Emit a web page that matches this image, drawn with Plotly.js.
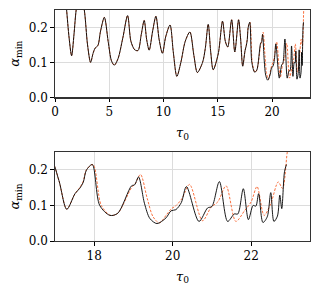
<!DOCTYPE html>
<html>
<head>
<meta charset="utf-8">
<script src="https://cdn.plot.ly/plotly-3.0.1.min.js"></script>
<style>html,body{margin:0;padding:0;background:#fff;}#chart{width:320px;height:290px;}</style>
</head>
<body>
<div id="chart"></div>
<script>
// Shared part of both series (curves coincide for tau0 < 17)
const tauCommon = [0.95,1.07,1.3,1.53,1.75,1.95,2.3,2.7,3.0,3.28,3.5,3.7,3.95,4.2,4.55,4.9,5.2,5.46,5.8,6.25,6.69,7.0,7.35,7.65,7.95,8.22,8.45,8.68,9.0,9.3,9.6,9.9,10.2,10.6,10.9,11.23,11.6,12.0,12.43,12.8,13.12,13.6,13.85,14.12,14.35,14.58,15.04,15.44,15.7,15.92,16.28,16.57,16.92];
const alphaCommon = [0.29,0.25,0.17,0.119,0.18,0.25,0.31,0.25,0.15,0.100,0.125,0.141,0.148,0.19,0.229,0.16,0.105,0.092,0.11,0.17,0.234,0.16,0.136,0.134,0.18,0.220,0.165,0.135,0.19,0.232,0.165,0.126,0.173,0.207,0.13,0.060,0.10,0.16,0.187,0.12,0.071,0.10,0.14,0.209,0.13,0.079,0.124,0.218,0.16,0.144,0.222,0.130,0.222];
// Solid (black) continuation
const tauSolid = [17.1,17.30,17.51,17.63,17.72,17.8,17.95,18.14,18.4,18.6,18.95,19.03,19.13,19.28,19.42,19.6,19.83,19.96,20.08,20.22,20.35,20.67,20.89,21.0,21.19,21.40,21.57,21.66,21.80,21.93,22.05,22.12,22.19,22.30,22.41,22.50,22.58,22.67,22.73,22.78,22.85,22.90];
const alphaSolid = [0.17,0.089,0.133,0.148,0.165,0.199,0.215,0.10,0.072,0.078,0.155,0.158,0.180,0.106,0.063,0.049,0.065,0.085,0.088,0.108,0.153,0.055,0.093,0.097,0.167,0.055,0.076,0.076,0.147,0.060,0.100,0.098,0.133,0.052,0.068,0.136,0.055,0.070,0.129,0.091,0.195,0.215];
// Dashed (orange) continuation
const tauDashed = [17.1,17.30,17.51,17.63,17.72,17.8,17.97,18.18,18.42,18.6,18.95,19.05,19.18,19.35,19.5,19.66,19.85,19.96,20.09,20.24,20.43,20.76,20.98,21.15,21.36,21.61,21.83,22.0,22.15,22.33,22.50,22.69,22.80,22.92,23.0];
const alphaDashed = [0.17,0.090,0.133,0.150,0.168,0.200,0.215,0.10,0.072,0.078,0.150,0.162,0.187,0.12,0.068,0.051,0.075,0.090,0.100,0.120,0.159,0.057,0.095,0.110,0.155,0.055,0.085,0.11,0.153,0.072,0.105,0.166,0.148,0.25,0.30];

const xSolid = tauCommon.concat(tauSolid), ySolid = alphaCommon.concat(alphaSolid);
const xDashed = tauCommon.concat(tauDashed), yDashed = alphaCommon.concat(alphaDashed);

const orange = '#f9703e';
function traces(xa, ya) {
  return [
    {x: xDashed, y: yDashed, xaxis: xa, yaxis: ya, mode: 'lines', line: {color: orange, width: 1, dash: '2.5px,1.5px', shape: 'spline', smoothing: 0.85}, hoverinfo: 'skip'},
    {x: xSolid, y: ySolid, xaxis: xa, yaxis: ya, mode: 'lines', line: {color: '#000', width: 0.9, shape: 'spline', smoothing: 0.85}, hoverinfo: 'skip'}
  ];
}
const data = traces('x', 'y').concat(traces('x2', 'y2'));

const FAM = 'DejaVu Serif';
const font = {family: FAM, size: 12, color: '#000'};
const axBase = {
  showline: true, mirror: true, linecolor: '#333', linewidth: 1.2,
  ticks: 'outside', ticklen: 3.5, tickwidth: 1, tickcolor: '#000',
  showgrid: true, gridcolor: '#dcdcdc', gridwidth: 1, zeroline: false,
  tickfont: font
};
const yTitle = {text: '<i>α</i><sub>min</sub>', font: {family: FAM, size: 13, color: '#000'}, standoff: 6};
const xTitle = {text: '<i>τ</i><sub>0</sub>', font: {family: FAM, size: 13, color: '#000'}, standoff: 9};

const layout = {
  width: 320, height: 290,
  margin: {l: 55, r: 10, t: 10, b: 49},
  paper_bgcolor: '#fff', plot_bgcolor: '#fff',
  showlegend: false, font: font,
  xaxis: Object.assign({}, axBase, {domain: [0, 1], range: [0, 23.5], tickvals: [0, 5, 10, 15, 20], anchor: 'y', title: xTitle}),
  yaxis: Object.assign({}, axBase, {domain: [0.622, 1], range: [0, 0.25], tickvals: [0, 0.1, 0.2], tickformat: '.1f', anchor: 'x', title: yTitle}),
  xaxis2: Object.assign({}, axBase, {domain: [0, 1], range: [17, 23.5], tickvals: [18, 20, 22], anchor: 'y2', title: xTitle}),
  yaxis2: Object.assign({}, axBase, {domain: [0, 0.385], range: [0, 0.25], tickvals: [0, 0.1, 0.2], tickformat: '.1f', anchor: 'x2', title: yTitle})
};
Plotly.newPlot('chart', data, layout, {staticPlot: true, displayModeBar: false});
</script>
</body>
</html>
